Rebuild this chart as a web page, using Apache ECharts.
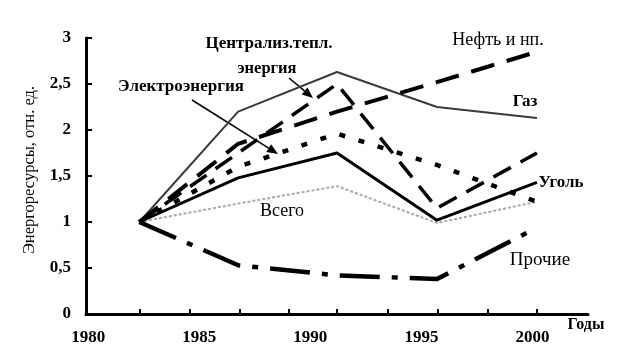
<!DOCTYPE html>
<html>
<head>
<meta charset="utf-8">
<script src="https://cdn.jsdelivr.net/npm/echarts@6/dist/echarts.min.js"></script>
<style>
html, body { margin: 0; padding: 0; background: #fff; }
#chart { width: 623px; height: 360px; }
</style>
</head>
<body>
<div id="chart"></div>
<script>
var chart = echarts.init(document.getElementById('chart'));

// годы точек (как на рисунке)
var years = [1982.3, 1986.75, 1991.2, 1995.7, 2000.2];
var tickYears = [1982.3, 1984.55, 1986.8, 1989.05, 1991.2, 1993.5, 1995.75, 1998, 2000.2];
var labelYears = [1980, 1985, 1990, 1995, 2000];

var gas = [1, 2.2, 2.63, 2.25, 2.13];
var oil = [1, 1.85, 2.2, 2.52, 2.85];
var heat = [1, 1.75, 2.5, 1.15, 1.75];
var electro = [1, 1.6, 1.96, 1.62, 1.22];
var coal = [1, 1.48, 1.75, 1.02, 1.43];
var total = [1, 1.2, 1.39, 0.99, 1.22];
var other = [1, 0.53, 0.42, 0.38, 0.94];

function pts(vals) {
	var d = [];
	for (var i = 0; i < vals.length; i++) {
		d.push([years[i], vals[i]]);
	}
	return d;
}

function ln(name, vals, color, width, type) {
	return {
		name: name,
		type: 'line',
		symbol: 'none',
		silent: true,
		lineStyle: { color: color, width: width, type: type, cap: 'butt', join: 'round' },
		data: pts(vals)
	};
}

var serif = 'Liberation Serif';

function txt(x, y, s, size, weight) {
	return {
		type: 'text', x: x, y: y,
		style: {
			text: s, fill: '#000', font: (weight || 'normal') + ' ' + size + 'px "' + serif + '"',
			align: 'center', verticalAlign: 'middle'
		}
	};
}

function arrow(x1, y1, x2, y2) {
	var a = Math.atan2(y2 - y1, x2 - x1), L = 11, W = 4.5;
	var bx = x2 - L * Math.cos(a), by = y2 - L * Math.sin(a);
	return [{
		type: 'line', shape: { x1: x1, y1: y1, x2: bx, y2: by },
		style: { stroke: '#000', lineWidth: 1.6 }
	}, {
		type: 'polygon',
		shape: { points: [[x2, y2], [bx - W * Math.sin(a), by + W * Math.cos(a)], [bx + W * Math.sin(a), by - W * Math.cos(a)]] },
		style: { fill: '#000' }
	}];
}

var graphics = [
	txt(269, 44, 'Централиз.тепл.', 17, 'bold'),
	txt(267, 69, 'энергия', 16.5, 'bold'),
	txt(181, 87, 'Электроэнергия', 17, 'bold'),
	txt(498, 40, 'Нефть и нп.', 18),
	txt(525, 102, 'Газ', 17, 'bold'),
	txt(561, 183, 'Уголь', 17, 'bold'),
	txt(282, 211, 'Всего', 18),
	txt(540, 260, 'Прочие', 19),
	txt(586, 325, 'Годы', 16, 'bold'),
	{
		type: 'text', x: 30, y: 170, rotation: Math.PI / 2,
		style: {
			text: 'Энергоресурсы, отн. ед.', fill: '#000', font: '16.5px "' + serif + '"',
			align: 'center', verticalAlign: 'middle'
		}
	}
].concat(arrow(192, 100, 278, 154), arrow(289, 78, 313, 98));

var option = {
	animation: false,
	backgroundColor: '#fff',
	grid: { left: 86, right: 35, top: 38, bottom: 46 },
	xAxis: {
		type: 'value',
		min: 1979.9,
		max: 2002.5,
		splitLine: { show: false },
		axisLine: { onZero: false, lineStyle: { color: '#000', width: 3 } },
		axisTick: { inside: true, length: 5, customValues: tickYears, lineStyle: { color: '#000', width: 2 } },
		axisLabel: {
			customValues: labelYears, margin: 15, hideOverlap: false,
			alignMinLabel: 'center', alignMaxLabel: 'center',
			color: '#000', fontFamily: serif, fontSize: 17, fontWeight: 'bold',
			formatter: function (v) { return String(v); }
		}
	},
	yAxis: {
		type: 'value',
		min: 0,
		max: 3,
		interval: 0.5,
		splitLine: { show: false },
		axisLine: { show: true, lineStyle: { color: '#000', width: 3 } },
		axisTick: { show: true, inside: true, length: 6, lineStyle: { color: '#000', width: 2 } },
		axisLabel: {
			margin: 15, color: '#000', fontFamily: serif, fontSize: 17, fontWeight: 'bold',
			formatter: function (v) { return String(v).replace('.', ','); }
		}
	},
	series: [
		ln('Всего', total, '#a8a8a8', 2, [3, 2]),
		ln('Газ', gas, '#3a3a3a', 2, 'solid'),
		ln('Нефть и нп.', oil, '#000', 4, [24, 13]),
		ln('Централиз.тепл. энергия', heat, '#000', 3.5, [20, 11]),
		ln('Электроэнергия', electro, '#000', 4.5, [6, 14]),
		ln('Уголь', coal, '#000', 3, 'solid'),
		ln('Прочие', other, '#000', 4.5, [40, 12, 6, 12])
	],
	graphic: graphics
};
chart.setOption(option);
</script>
</body>
</html>
